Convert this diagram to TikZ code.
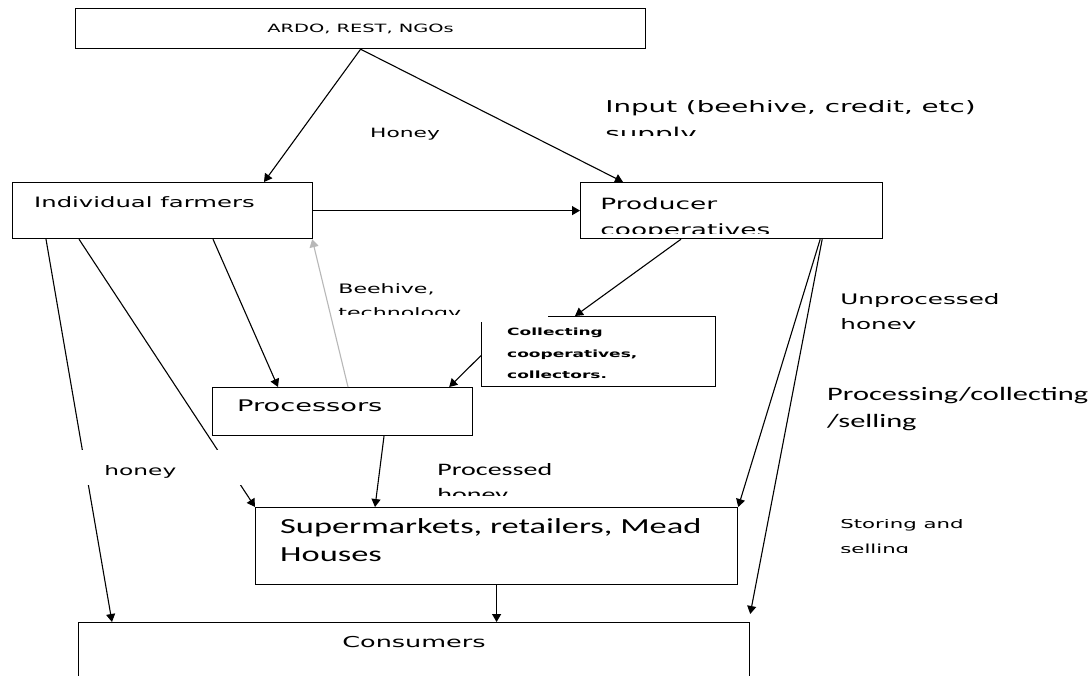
\documentclass[tikz,border=0pt]{standalone}
\usepackage{fontspec}
\newfontfamily\verd[FakeStretch=1.7]{DejaVu Sans}
\newfontfamily\calib[FakeStretch=1.6]{Carlito}
\usetikzlibrary{arrows.meta}

\tikzset{
  box/.style={draw, line width=1.2pt, fill=white, anchor=north west, inner sep=0pt},
  flow/.style={-{Triangle[length=8pt,width=9pt]}, line width=1.1pt},
  back/.style={flow, draw=black!28},
  cover/.style={fill=white, anchor=north west, inner sep=0pt},
  txt/.style={anchor=north west, inner sep=0pt, align=left},
  cliptxt/.style 2 args={path picture={\node[txt, minimum width=0pt, minimum height=0pt, font=#1] at (path picture bounding box.north west) {#2};}},
}

\begin{document}
\begin{tikzpicture}[x=1pt, y=-1pt]
	\useasboundingbox (0,0) rectangle (1092,675);
	\fill[white] (0,0) rectangle (1092,675);
	\clip (0,0) rectangle (1092,675);

	% boxes
	\node[box, minimum width=570pt, minimum height=40pt, font=\verd\fontsize{11.4}{13}\selectfont] (ardo) at (75,8) {ARDO, REST, NGOs};
	\node[box, minimum width=300pt, minimum height=56pt] (farmers) at (12,182) {};
	\node[box, minimum width=302pt, minimum height=56pt] (producer) at (580,182) {};
	\node[box, minimum width=234pt, minimum height=70pt] (collect) at (481,316) {};
	\node[box, minimum width=260pt, minimum height=48pt] (proc) at (212,387) {};
	\node[box, minimum width=482pt, minimum height=77pt] (super) at (255,507) {};
	\node[box, minimum width=671pt, minimum height=80pt] (cons) at (78,622) {};

	% box texts
	\node[txt, font=\verd\fontsize{14.3}{16}\selectfont] (farmerstxt) at (34,196) {Individual farmers};
	\node[txt, minimum width=200pt, minimum height=36pt, cliptxt={\verd\fontsize{15.5}{26}\selectfont}{Producer\\cooperatives}] (producertxt) at (600,197) {};
	\node[txt, font=\verd\bfseries\fontsize{10}{21.5}\selectfont] (collecttxt) at (507,328) {Collecting\\cooperatives,\\collectors.};
	\node[txt, font=\verd\fontsize{16}{19}\selectfont] (proctxt) at (237,400) {Processors};
	\node[txt, font=\calib\fontsize{21.5}{28}\selectfont] (supertxt) at (280,518) {Supermarkets, retailers, Mead\\Houses};
	\node[font=\verd\fontsize{15}{18}\selectfont] (constxt) at (414,642) {Consumers};

	% flows
	\draw[flow] (ardo.south) -- ([xshift=252pt]farmers.north west);
	\draw[flow] (ardo.south) -- ([xshift=43pt]producer.north west);
	\draw[flow] (farmers.east) -- (producer.west);
	\draw[flow] ([xshift=34pt]farmers.south west) -- ([xshift=34pt]cons.north west);
	\draw[flow] ([xshift=67pt]farmers.south west) -- (super.north west);
	\draw[flow] ([xshift=201pt]farmers.south west) -- ([xshift=66pt]proc.north west);
	\draw[back] ([xshift=136pt]proc.north west) -- ([xshift=-1pt]farmers.south east);
	\draw[flow] ([xshift=101pt]producer.south west) -- ([xshift=94pt]collect.north west);
	\draw[flow] ([yshift=-4pt]collect.west) -- ([xshift=-24pt]proc.north east);
	\draw[flow] ([xshift=172pt]proc.south west) -- ([xshift=120pt]super.north west);
	\draw[flow] (super.south) -- (super.south |- cons.north);
	\draw[flow] ([xshift=-63pt]producer.south east) -- (super.north east);
	\draw[flow] ([xshift=-61pt]producer.south east) -- ([yshift=8pt]cons.north east);

	% labels
	\node[txt, minimum width=390pt, minimum height=35pt, cliptxt={\verd\fontsize{16.3}{27}\selectfont}{Input (beehive, credit, etc)\\supply}] (inputlbl) at (605,100) {};
	\node[txt, font=\verd\fontsize{12.8}{16}\selectfont] (honeylbl) at (370,128) {Honey};
	\node[cover, minimum width=212pt, minimum height=46pt] (beecover) at (336,276) {};
	\node[txt, minimum width=200pt, minimum height=31pt, cliptxt={\verd\fontsize{13}{24}\selectfont}{Beehive,\\technology}] (beelbl) at (338,283) {};
	\node[txt, minimum width=240pt, minimum height=35pt, cliptxt={\verd\fontsize{14.5}{25}\selectfont}{Unprocessed\\honey}] (unproclbl) at (840,293) {};
	\node[txt, font=\calib\fontsize{19}{27}\selectfont] (sellinglbl) at (827,387) {Processing/collecting\\/selling};
	\node[txt, minimum width=160pt, minimum height=32pt, cliptxt={\calib\fontsize{17.5}{25}\selectfont}{Processed\\honey}] (processedlbl) at (437,463) {};
	\node[cover, minimum width=175pt, minimum height=35pt] (honeycover) at (70,450) {};
	\node[txt, minimum width=90pt, minimum height=12pt, cliptxt={\verd\fontsize{13.7}{16}\selectfont}{honey}] (honeyleft) at (104,465) {};
	\node[txt, minimum width=200pt, minimum height=33pt, cliptxt={\verd\fontsize{12.5}{25}\selectfont}{Storing and\\selling}] (storinglbl) at (840,519) {};
\end{tikzpicture}
\end{document}
